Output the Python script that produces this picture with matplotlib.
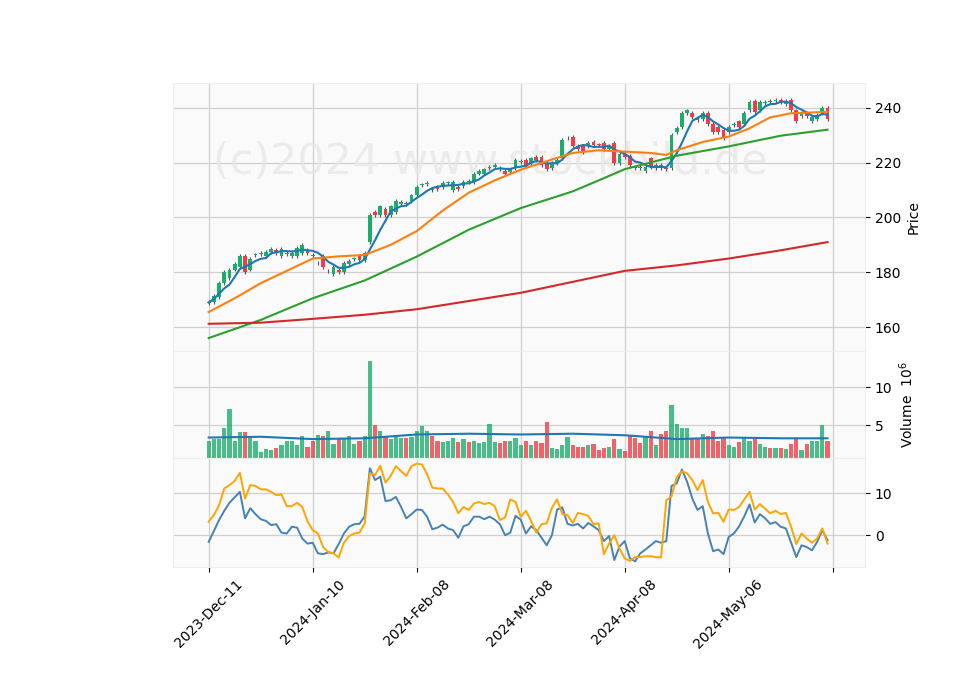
import numpy as np
import pandas as pd
import matplotlib
matplotlib.use("Agg")
import matplotlib.pyplot as plt

# candles
opens = [168.8, 169, 171, 176, 178, 181, 182, 186, 181, 186.3, 186.8, 186, 187.5, 188, 186, 186.8, 186, 186, 187, 188,
         186.2, 183.3, 186, 180.3, 179.5, 181, 180, 183, 184.8, 186, 184.5, 191, 202, 201, 203, 201, 202, 205, 205.2, 206,
         208, 211.8, 212.3, 210.5, 211, 211, 212.5, 210, 211, 211.5, 213.2, 213, 216, 216, 218, 218.5, 218, 217, 216.5, 218,
         220.3, 221, 220, 222, 222, 220, 218, 220, 221.6, 228.8, 229.3, 226, 226, 226, 227.5, 226.6, 227, 225, 227, 220,
         223, 222.5, 218.2, 218.5, 217, 221.5, 218, 219, 218, 218, 231, 233, 238, 238, 236, 236, 238, 234, 233, 232,
         231, 233.8, 235, 234, 239, 242.5, 239, 241.8, 242.5, 242.5, 243, 241.5, 243, 239, 237, 238, 235, 236, 238, 240]
closes = [169, 171.5, 176, 180, 181, 183, 186, 180, 185, 186.5, 187, 187.5, 188.5, 187, 188.5, 187, 187, 189, 190, 187,
          186, 183.5, 182, 180.5, 182, 180, 183.5, 184, 185, 184.5, 187, 201, 201, 204, 201, 204, 206, 205.5, 205, 208,
          211, 212, 212.5, 210, 210.5, 212.5, 212.7, 213, 210.5, 213, 213, 216, 217, 217.5, 218.5, 219, 217.5, 216, 217.5, 221,
          220.6, 219, 221.5, 221, 219, 217.5, 220, 221, 228.3, 229, 225.9, 225, 224, 227, 226.5, 226.4, 225, 226, 219.8, 223,
          222, 219, 218, 218, 218.5, 218.5, 219, 218, 217.5, 230, 232.5, 238, 239, 236.5, 235.5, 238, 234, 231, 231, 229,
          233, 234, 233, 238, 242, 238.5, 242, 242, 242, 242.7, 242, 242.5, 239, 235, 238, 237, 236.5, 237.5, 240, 236]

ma20_idx = [0, 5, 10, 15, 20, 25, 30, 35, 40, 45, 50, 55, 60, 65, 70, 75, 80, 85, 88, 90, 95, 100, 104, 108, 112, 119]
ma20_val = [165.5, 170.5, 176, 180.5, 185, 185.8, 186.3, 190, 195, 202.5, 209, 213.5, 217.4, 220.5, 223.5, 224.5, 224,
            223.5, 222.8, 224.5, 227.5, 229.5, 232.5, 236.5, 238, 238.5]
ma50_idx = [0, 10, 20, 30, 40, 50, 60, 70, 75, 80, 90, 100, 110, 119]
ma50_val = [156, 162.6, 170.5, 177, 185.7, 195.5, 203.4, 209.5, 213.5, 217.6, 222.5, 225.9, 229.8, 232.0]
ma200_idx = [0, 10, 20, 30, 40, 50, 60, 70, 80, 90, 100, 110, 119]
ma200_val = [161.2, 161.6, 163, 164.5, 166.5, 169.5, 172.5, 176.5, 180.5, 182.5, 185, 188, 191]

volume = [3.0, 3.2, 3.2, 4.6, 7.2, 3.0, 4.1, 4.1, 3.6, 2.9, 1.5, 1.9, 1.8, 2.0, 2.4, 2.9, 2.9, 2.4, 3.6, 2.2,
          3.0, 3.7, 3.6, 4.2, 2.5, 3.4, 3.4, 3.6, 2.5, 3.0, 3.6, 13.4, 5.0, 4.3, 3.6, 3.2, 3.5, 3.4, 3.4, 3.5,
          4.2, 4.9, 4.2, 3.6, 2.9, 2.8, 3.0, 3.4, 2.8, 3.2, 2.8, 2.9, 2.7, 2.8, 5.2, 2.8, 2.7, 2.9, 2.9, 3.4,
          2.4, 3.0, 2.4, 2.9, 2.7, 5.4, 2.0, 1.9, 2.4, 3.5, 2.4, 2.2, 2.2, 2.4, 2.5, 1.8, 2.0, 2.2, 3.2, 1.9,
          1.6, 3.6, 3.4, 2.7, 3.5, 4.3, 2.4, 3.9, 4.2, 7.6, 5.2, 4.7, 4.6, 3.2, 3.4, 3.9, 3.6, 4.3, 3.0, 3.4,
          2.4, 2.2, 2.8, 3.4, 3.0, 3.2, 2.5, 2.1, 2.0, 2.0, 2.0, 1.9, 2.5, 3.4, 1.8, 2.5, 2.9, 2.9, 5.1, 2.9]
vol_ma_idx = [0, 10, 20, 30, 40, 50, 60, 70, 80, 90, 100, 110, 119]
vol_ma_val = [3.4, 3.5, 3.2, 3.3, 3.8, 3.9, 3.8, 3.9, 3.7, 3.2, 3.4, 3.3, 3.3]

osc_blue = [-1.6, 1, 3.6, 5.8, 7.7, 9, 10.3, 4, 6.4, 5, 3.8, 3.4, 2.4, 2.6, 0.6, 0.4, 2, 1.8, -0.8, -2,
            -1.8, -4.3, -4.5, -4.1, -4.3, -2.1, 0.4, 2, 2.6, 2.7, 4.5, 15.9, 13.1, 13.9, 8.1, 8.3, 9.1, 6.7, 4, 5,
            6.1, 6, 4.4, 1.4, 1.8, 2.5, 1.6, 1.2, -0.6, 2.1, 2.6, 4.4, 4.4, 3.8, 4.4, 3.7, 2.6, 0, 0.6, 4.6,
            3.7, 0.4, 2.1, 1.2, -0.6, -2.4, 0, 6.1, 6.6, 2.7, 2.3, 2.7, 1.6, 2.9, 2.1, 1.2, -1.4, -0.2, -5.9, -2.7,
            -1.4, -5.5, -6.2, -4.3, -3.4, -2.4, -1.4, -1.8, -1.4, 11.7, 12.3, 15.6, 12.7, 8.7, 6, 6.9, 0.4, -3.8, -3.4, -4.5,
            -0.4, 0.4, 2.1, 4.5, 7.3, 3, 5, 4, 2.7, 3.1, 2, 1.6, -1.8, -5.2, -2.4, -2.8, -3.6, -1.6, 1.2, -1.2]
osc_orange = [3.2, 4.8, 7.1, 11.1, 11.9, 12.9, 14.8, 8.7, 11.9, 11.7, 10.9, 10.9, 10.3, 9.5, 9.7, 6.9, 6.9, 7.7, 6.7, 3.3,
              1.2, 0.4, -2.8, -4, -4.3, -5.3, -1.8, -0.2, 0.4, 0.6, 2.8, 14.7, 14.3, 16.5, 12.5, 14.1, 16.4, 15.2, 14.1, 16.4,
              17, 16.8, 14.5, 11.3, 11.1, 11.1, 9.7, 7.9, 5.2, 6.7, 6, 7.5, 7.9, 7.4, 7.7, 6.9, 3.6, 4.2, 8.5, 7.9,
              4.4, 5.8, 3.4, 0.6, 2.6, 2.8, 6.5, 8.5, 5, 4.8, 2.9, 5.3, 5, 4.6, 2.6, 2.8, -4.5, -2, 0, -3.2,
              -5.5, -6.1, -5.2, -5.2, -5, -5, -5.2, -5.3, 8.3, 9.2, 13.8, 15.2, 14.7, 13.1, 10.7, 13.1, 7.9, 5.2, 5.3, 3.2,
              6.1, 6, 6.7, 8.5, 10.3, 6.1, 7.4, 6.3, 5.2, 5.8, 5, 5.3, 2, -2.1, 0.4, -0.8, -1.8, -0.8, 1.6, -2]

tick_pos = [0, 20, 40, 60, 80, 100, 120]
tick_labels = ["2023-Dec-11", "2024-Jan-10", "2024-Feb-08", "2024-Mar-08", "2024-Apr-08", "2024-May-06", ""]

up_c, dn_c = "#1aae6a", "#f23b45"
o = np.array(opens); c = np.array(closes)
x = np.arange(len(c))
up = c >= o
cols = np.where(up, up_c, dn_c)

fig = plt.figure(figsize=(9.6, 6.9), dpi=100)
ax1 = fig.add_axes([0.180, 0.491, 0.721, 0.389])
ax2 = fig.add_axes([0.180, 0.336, 0.721, 0.155], sharex=ax1)
ax3 = fig.add_axes([0.180, 0.178, 0.721, 0.158], sharex=ax1)

for ax in (ax1, ax2, ax3):
    ax.set_facecolor("#fafafa")
    ax.grid(True, color="#d0d0d0", lw=0.9)
    ax.set_axisbelow(True)
    ax.yaxis.tick_right()
    ax.yaxis.set_label_position("right")
    for s in ax.spines.values():
        s.set_color("#eeeeee")
    ax.tick_params(colors="black", labelsize=10)

# candles
hi = np.maximum(o, c) + 0.7
lo = np.minimum(o, c) - 0.7
ax1.vlines(x, lo, hi, color="#555555", lw=0.8, zorder=2)
ax1.bar(x, np.maximum(np.abs(c - o), 0.25), bottom=np.minimum(o, c), width=0.7, color=cols, zorder=3)
ax1.plot(x, pd.Series(c).rolling(5, min_periods=1).mean(), color="tab:blue", lw=1.5, zorder=4)
ax1.plot(ma20_idx, ma20_val, color="tab:orange", lw=1.5, zorder=4)
ax1.plot(ma50_idx, ma50_val, color="tab:green", lw=1.5, zorder=4)
ax1.plot(ma200_idx, ma200_val, color="tab:red", lw=1.5, zorder=4)
ax1.set_ylim(151.2, 249.1)
ax1.set_yticks([160, 180, 200, 220, 240])
ax1.set_ylabel("Price")
ax1.text(0.458, 0.705, "(c)2024 www.stockbild.de", transform=ax1.transAxes, ha="center", va="center",
         fontsize=31, color="#e6e6e6", alpha=0.7, zorder=1)
plt.setp(ax1.get_xticklabels(), visible=False)

# volume
ax2.bar(x, volume, width=0.8, color=cols, alpha=0.8, zorder=3)
ax2.plot(vol_ma_idx, vol_ma_val, color="tab:blue", lw=1.5, zorder=4)
ax2.set_ylim(0.7, 14.7)
ax2.set_yticks([5, 10])
ax2.set_ylabel("Volume  $10^6$")
plt.setp(ax2.get_xticklabels(), visible=False)

# oscillator
ax3.plot(x, osc_blue, color="#4682b4", lw=1.4)
ax3.plot(x, osc_orange, color="#ffa500", lw=1.4)
ax3.set_ylim(-7.6, 18.3)
ax3.set_yticks([0, 10])

ax3.set_xlim(-6.9, 126.2)
ax3.set_xticks(tick_pos)
ax3.set_xticklabels(tick_labels, rotation=45)

fig.savefig("out.png", dpi=100)
